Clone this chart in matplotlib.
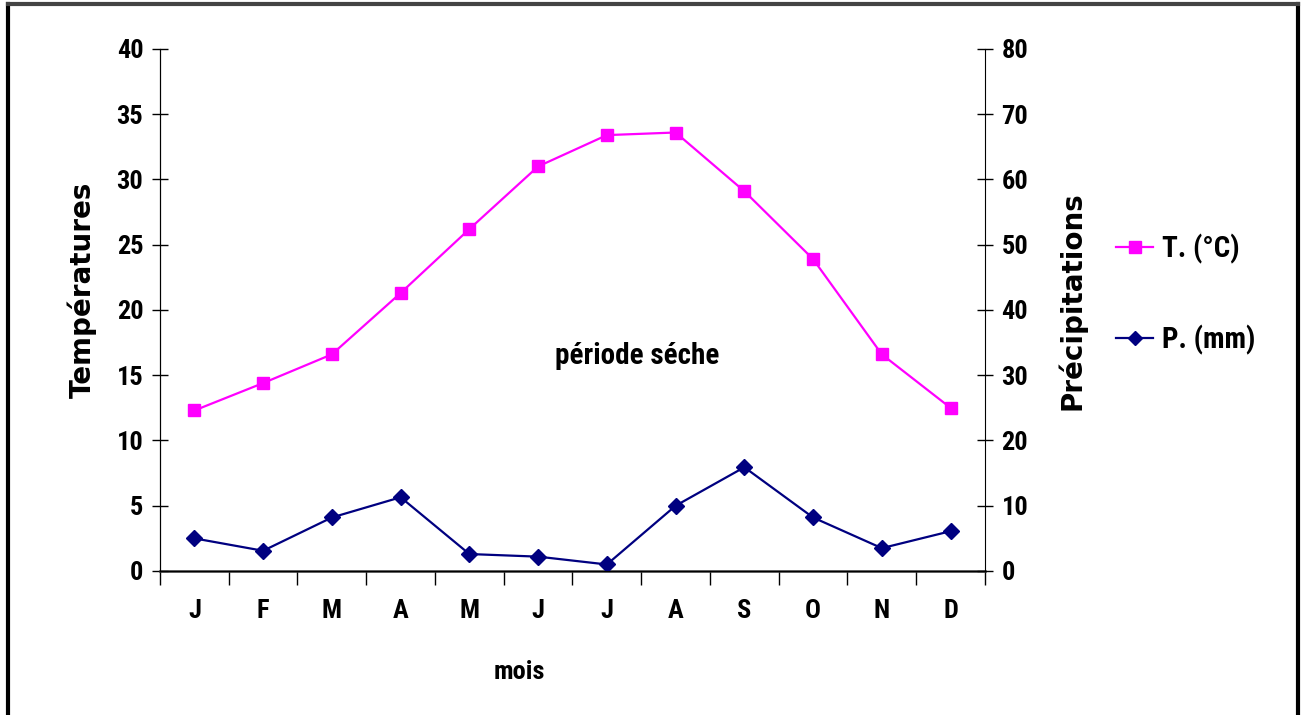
import matplotlib.pyplot as plt
from matplotlib.lines import Line2D
from matplotlib import font_manager

# Monthly climate data
months = ["J", "F", "M", "A", "M", "J", "J", "A", "S", "O", "N", "D"]
temperature = [12.3, 14.4, 16.6, 21.3, 26.2, 31.0, 33.4, 33.6, 29.1, 23.9, 16.6, 12.5]
precipitation = [5.0, 3.1, 8.2, 11.3, 2.6, 2.2, 1.0, 10.0, 15.9, 8.2, 3.5, 6.1]

names = {f.name for f in font_manager.fontManager.ttflist}
narrow = None
for cand in ["Liberation Sans Narrow", "Arial Narrow", "Roboto Condensed", "Open Sans Condensed"]:
    if cand in names:
        narrow = cand
        break
stretch = "normal"
if narrow is None:
    narrow = "DejaVu Sans"
    stretch = "condensed"

plt.rcParams["font.family"] = [narrow, "DejaVu Sans"]
plt.rcParams["font.weight"] = "bold"
plt.rcParams["font.stretch"] = stretch

fig = plt.figure(figsize=(13.03, 7.15), dpi=100)
ax = fig.add_axes([0.1228, 0.2014, 0.6331, 0.7301])
ax2 = ax.twinx()

x = list(range(len(months)))
l1, = ax.plot(x, temperature, color="#ff00ff", marker="s", markersize=9,
              linewidth=1.6, label="T. (°C)")
l2, = ax2.plot(x, precipitation, color="#000080", marker="D", markersize=8,
               linewidth=1.6, label="P. (mm)")

ax.set_xlim(-0.5, 11.5)
ax.set_ylim(0, 40)
ax2.set_ylim(0, 80)
ax.set_yticks(range(0, 41, 5))
ax2.set_yticks(range(0, 81, 10))

# month labels centred, tick marks between categories
ax.set_xticks(x)
ax.set_xticklabels(months, fontsize=19, fontweight="bold")
ax.set_xticks([i - 0.5 for i in range(13)], minor=True)
ax.tick_params(axis="x", which="major", length=0, pad=20)
ax.tick_params(axis="x", which="minor", length=10, width=1, direction="out")
ax.tick_params(axis="y", length=12, width=1, direction="inout", labelsize=19, pad=6)
ax2.tick_params(axis="y", length=12, width=1, direction="inout", labelsize=19, pad=6)
for lab in ax.get_yticklabels() + ax2.get_yticklabels():
    lab.set_fontweight("bold")

for a in (ax, ax2):
    a.spines["top"].set_visible(False)
ax.spines["right"].set_visible(False)
ax.spines["bottom"].set_linewidth(1.8)
ax.spines["bottom"].set_color("#333333")

ax.set_ylabel("Températures", fontsize=20, fontweight="bold", family="DejaVu Sans",
              fontstretch="normal")
ax.yaxis.set_label_coords(-0.076, 0.538)
ax2.set_ylabel("Précipitations", fontsize=20, fontweight="bold", family="DejaVu Sans",
               fontstretch="normal")
ax2.yaxis.set_label_coords(1.087, 0.517)
ax.set_xlabel("mois", fontsize=19, fontweight="bold")
ax.xaxis.set_label_coords(0.436, -0.170)

ax.text(6.44, 16.5, "période séche", fontsize=21, fontweight="bold", ha="center", va="center")

fig.legend(handles=[l1, l2], loc="upper left", bbox_to_anchor=(0.836, 0.71),
           frameon=False, fontsize=21, labelspacing=2.1, handlelength=1.3,
           handletextpad=0.3, markerscale=0.9)

# outer frame
fig.add_artist(Line2D([0.006, 0.006], [0, 0.995], transform=fig.transFigure, color="black", lw=3))
fig.add_artist(Line2D([0.996, 0.996], [0, 0.995], transform=fig.transFigure, color="black", lw=3))
fig.add_artist(Line2D([0.006, 0.996], [0.995, 0.995], transform=fig.transFigure, color="#444444", lw=3))

fig.savefig("out.png", dpi=100)
